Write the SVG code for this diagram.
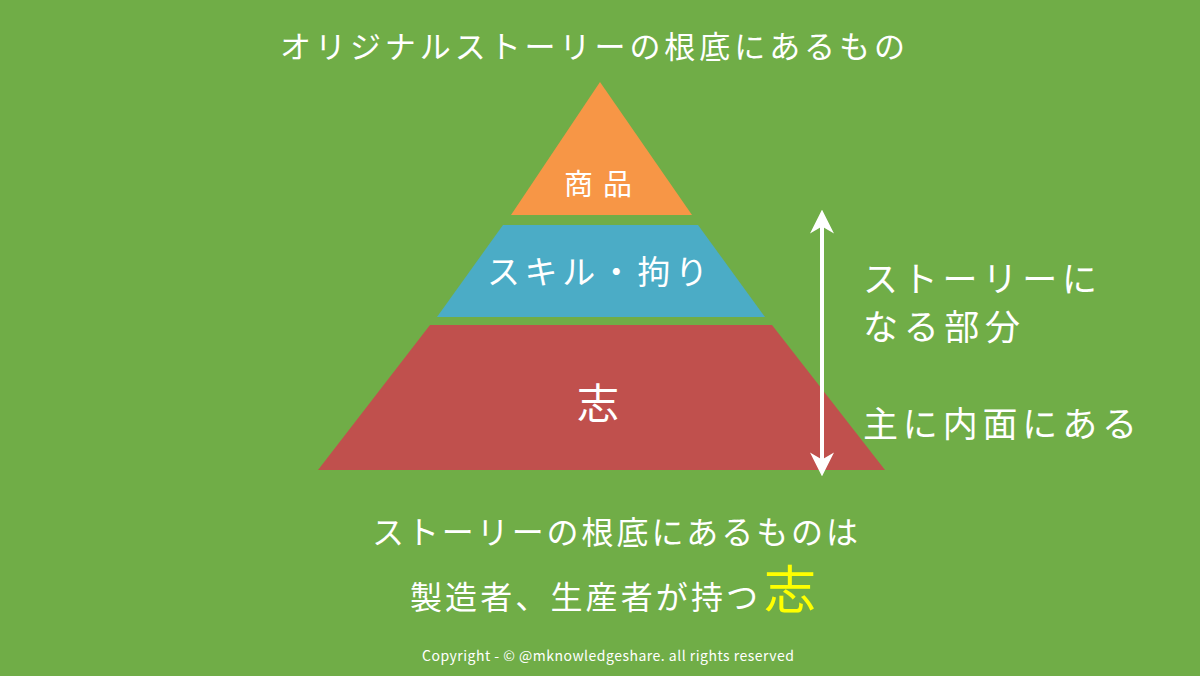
<svg xmlns="http://www.w3.org/2000/svg" width="1200" height="676" viewBox="0 0 1200 676">
<style>
text{font-family:"Noto Sans CJK JP","Noto Sans",sans-serif;fill:#fff}
</style>
<defs>
<marker id="ah" viewBox="0 0 10 10" refX="4" refY="5" markerWidth="6" markerHeight="6" orient="auto-start-reverse"><path d="M0,0L10,5L0,10L3,5z" fill="#fff"/></marker>
</defs>
<rect width="1200" height="676" fill="#70AD47"/>
<text x="280" y="58" font-size="31" textLength="625" lengthAdjust="spacing">オリジナルストーリーの根底にあるもの</text>
<g id="top"><polygon points="600,82 511,215 692,215" fill="#F79646"/><text x="564" y="195" font-size="29" textLength="68" lengthAdjust="spacing">商品</text></g>
<g id="mid"><polygon points="503,225 698,225 765,317 437,317" fill="#4BACC6"/><text x="487" y="284" font-size="33" textLength="221" lengthAdjust="spacing">スキル・拘り</text></g>
<g id="base"><polygon points="430,325 772,325 885,470 318,470" fill="#C0504D"/><text x="577" y="419" font-size="42">志</text></g>
<g id="connectors"><line x1="822" y1="224" x2="822" y2="462" stroke="#fff" stroke-width="4" marker-start="url(#ah)" marker-end="url(#ah)"/></g>
<text x="863" y="292" font-size="35" textLength="234" lengthAdjust="spacing">ストーリーに</text>
<text x="863" y="340" font-size="35" textLength="157" lengthAdjust="spacing">なる部分</text>
<text x="863" y="437" font-size="35" textLength="274" lengthAdjust="spacing">主に内面にある</text>
<text x="372" y="544" font-size="32" textLength="486" lengthAdjust="spacing">ストーリーの根底にあるものは</text>
<text x="410" y="609" font-size="32" textLength="348" lengthAdjust="spacing">製造者、生産者が持つ</text>
<text x="764" y="609" font-size="52" fill="#FFFF00" style="fill:#FFFF00">志</text>
<text x="422" y="661" font-size="14" textLength="372" lengthAdjust="spacing">Copyright - © @mknowledgeshare. all rights reserved</text>
</svg>
